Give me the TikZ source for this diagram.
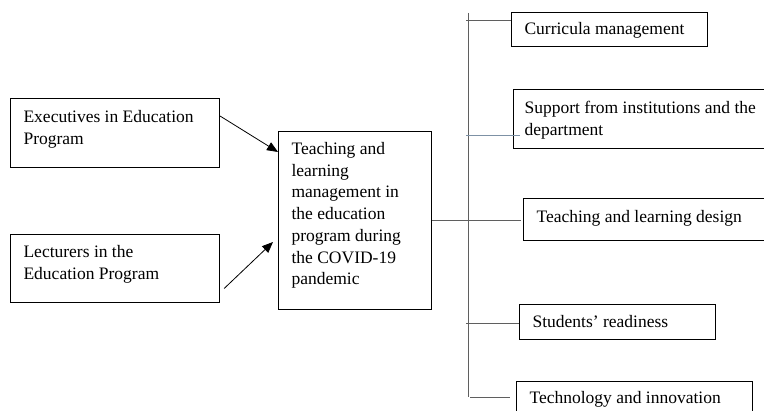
\documentclass[tikz,border=0pt]{standalone}
\usepackage{fontspec}
\setmainfont{Liberation Serif}
\usetikzlibrary{arrows.meta,calc}
\newcommand{\bxt}[5]{\parbox[b][#2][t]{#1}{\raggedright\leftskip=#3\relax\rule{0pt}{#4}#5}}
\definecolor{busgray}{RGB}{95,95,95}
\definecolor{bluegray}{RGB}{125,145,165}
\begin{document}
\begin{tikzpicture}[x=1pt,y=1pt,
  box/.style={draw=black, line width=1.1pt, anchor=north west, inner sep=0pt,
    font=\fontsize{17.5pt}{21.7pt}\selectfont},
  arr/.style={draw=black, line width=0.8pt, -{Triangle[length=11pt,width=9pt]}},
  link/.style={draw=busgray, line width=0.8pt}]
\clip (0,0) rectangle (764,-411);
% left boxes
\node[box] (exec) at (10,-98) {\bxt{209pt}{69pt}{13pt}{24pt}{Executives in Education\\Program}};
\node[box] (lect) at (10,-234) {\bxt{209pt}{68pt}{13pt}{23pt}{Lecturers in the\\Education Program}};
% center box
\node[box] (center) at (278,-131) {\bxt{153pt}{178pt}{13pt}{23pt}{Teaching and\\learning\\management in\\the education\\program during\\the COVID-19\\pandemic}};
% right boxes
\node[box] (curr) at (511,-12) {\bxt{196pt}{34pt}{13pt}{22pt}{Curricula management}};
\node[box] (supp) at (513,-89) {\bxt{260pt}{59pt}{11pt}{24pt}{Support from institutions and the\\department}};
\node[box] (design) at (523,-198) {\bxt{250pt}{42pt}{13pt}{24pt}{Teaching and learning design}};
\node[box] (stud) at (519,-304) {\bxt{196pt}{35pt}{13pt}{23pt}{Students’ readiness}};
\node[box] (tech) at (516,-381) {\bxt{236pt}{45pt}{13pt}{22pt}{Technology and innovation}};
% arrows
\draw[arr] ([yshift=17pt]exec.east) -- ([yshift=-21pt]center.north west);
\draw[arr] ([xshift=4pt,yshift=-20pt]lect.east) -- ([xshift=-5pt,yshift=-111pt]center.north west);
% bus
\coordinate (bustop) at (468,-13);
\coordinate (busbot) at (468,-397);
\coordinate (b1) at (466,-20);
\coordinate (b2) at (466,-135);
\coordinate (b4) at (466,-323);
\coordinate (b5) at (470,-397);
\coordinate (b5e) at (510,-397);
\draw[link] (bustop) -- (busbot);
\draw[link] (b1) -- (b1 -| curr.west);
\draw[draw=bluegray, line width=0.8pt] (b2) -- ([xshift=7pt]b2 -| supp.west);
\draw[link] (center.east) -- ([xshift=-2pt]center.east -| design.west);
\draw[link] (b4) -- (b4 -| stud.west);
\draw[link] (b5) -- (b5e);
\end{tikzpicture}
\end{document}
